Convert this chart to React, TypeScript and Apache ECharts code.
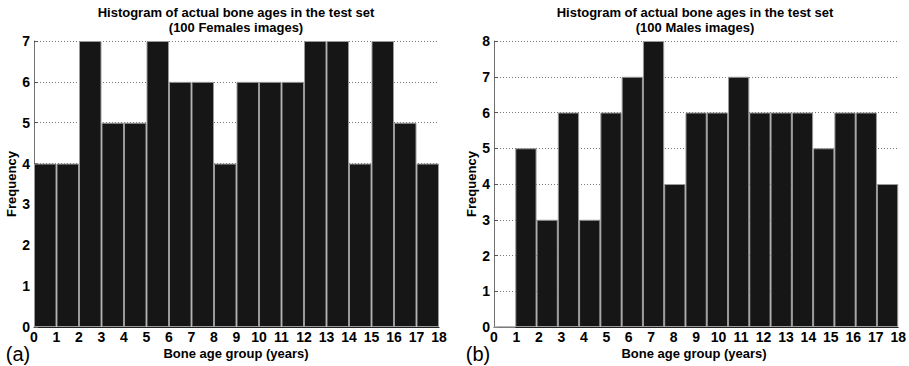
import React, { useEffect, useRef } from "react";
import * as echarts from "echarts";

const femaleBins = ["0-1","1-2","2-3","3-4","4-5","5-6","6-7","7-8","8-9","9-10","10-11","11-12","12-13","13-14","14-15","15-16","16-17","17-18"];
const femaleCounts = [4, 4, 7, 5, 5, 7, 6, 6, 4, 6, 6, 6, 7, 7, 4, 7, 5, 4];
const maleBins = ["0","1","2","3","4","5","6","7","8","9","10","11","12","13","14","15","16","17","18"];
const maleCounts = [0, 5, 3, 6, 3, 6, 7, 8, 4, 6, 6, 7, 6, 6, 6, 5, 6, 6, 4];
const titleLine1 = "Histogram of actual bone ages in the test set";
const femaleTitle2 = "(100 Females images)";
const maleTitle2 = "(100 Males images)";
const xName = "Bone age group (years)";
const yName = "Frequency";
const femaleYMax = 7;
const maleYMax = 8;
const xTickMax = 18;

const FONT = "'Liberation Sans', Arial, sans-serif";

export default function App() {
  const ref = useRef<HTMLDivElement>(null);
  useEffect(() => {
    if (!ref.current) return;
    const chart = echarts.init(ref.current, null, { renderer: "svg" });
    const grids = [
      { left: 34, top: 41, width: 405, height: 286 },
      { left: 494, top: 41, width: 405, height: 286 },
    ];
    const labelAxis = (gi: number) => ({
      type: "value",
      gridIndex: gi,
      position: "bottom",
      min: 0,
      max: xTickMax,
      interval: 1,
      axisLine: { show: false },
      axisTick: { show: false },
      splitLine: { show: false },
      axisLabel: {
        show: true,
        color: "#000",
        fontFamily: FONT,
        fontWeight: "bold",
        fontSize: 14,
        margin: 3,
        showMinLabel: true,
        showMaxLabel: true,
      },
    });
    const catAxis = (gi: number, data: string[]) => ({
      type: "category",
      gridIndex: gi,
      data,
      boundaryGap: true,
      axisLine: { show: true, lineStyle: { color: "#222", width: 1 } },
      axisTick: { show: false },
      axisLabel: { show: false },
      splitLine: { show: false },
    });
    const yAxis = (gi: number, max: number) => ({
      type: "value",
      gridIndex: gi,
      min: 0,
      max,
      interval: 1,
      axisLine: { show: true, lineStyle: { color: "#707070", width: 1 } },
      axisTick: { show: true, inside: true, length: 4, lineStyle: { color: "#555" } },
      axisLabel: {
        color: "#000",
        fontFamily: FONT,
        fontWeight: "bold",
        fontSize: 14,
        margin: 4,
      },
      splitLine: { show: true, lineStyle: { color: "#777", width: 1, type: [1, 2] } },
    });
    const barStyle = { color: "#161616", borderColor: "#9a9a9a", borderWidth: 1 };
    const txt = (x: number, y: number, text: string, size: number, bold: boolean, rot = 0) => ({
      type: "text",
      x,
      y,
      rotation: rot,
      style: {
        text,
        fill: "#000",
        font: `${bold ? "bold " : ""}${size}px ${FONT}`,
        textAlign: "center",
        textVerticalAlign: "middle",
      },
    });
    chart.setOption({
      animation: false,
      backgroundColor: "#fff",
      grid: grids,
      xAxis: [
        catAxis(0, femaleBins),
        catAxis(1, maleBins),
        labelAxis(0),
        labelAxis(1),
      ],
      yAxis: [yAxis(0, femaleYMax), yAxis(1, maleYMax)],
      series: [
        {
          type: "bar",
          xAxisIndex: 0,
          yAxisIndex: 0,
          data: femaleCounts,
          barCategoryGap: 0,
          itemStyle: barStyle,
        },
        {
          type: "bar",
          xAxisIndex: 1,
          yAxisIndex: 1,
          data: maleCounts,
          barCategoryGap: 0,
          itemStyle: barStyle,
        },
      ],
      graphic: [
        txt(236, 12, titleLine1, 13, true),
        txt(236, 27, femaleTitle2, 13, true),
        txt(695, 12, titleLine1, 13, true),
        txt(695, 27, maleTitle2, 13, true),
        txt(236, 353, xName, 13, true),
        txt(694, 353, xName, 13, true),
        txt(11, 184, yName, 13, true, Math.PI / 2),
        txt(471, 184, yName, 13, true, Math.PI / 2),
        txt(18, 354, "(a)", 20, false),
        txt(478, 354, "(b)", 20, false),
      ],
    });
    return () => chart.dispose();
  }, []);
  return (
    <div
      ref={ref}
      style={{ position: "fixed", left: 0, top: 0, width: 909, height: 366, background: "#fff" }}
    />
  );
}
